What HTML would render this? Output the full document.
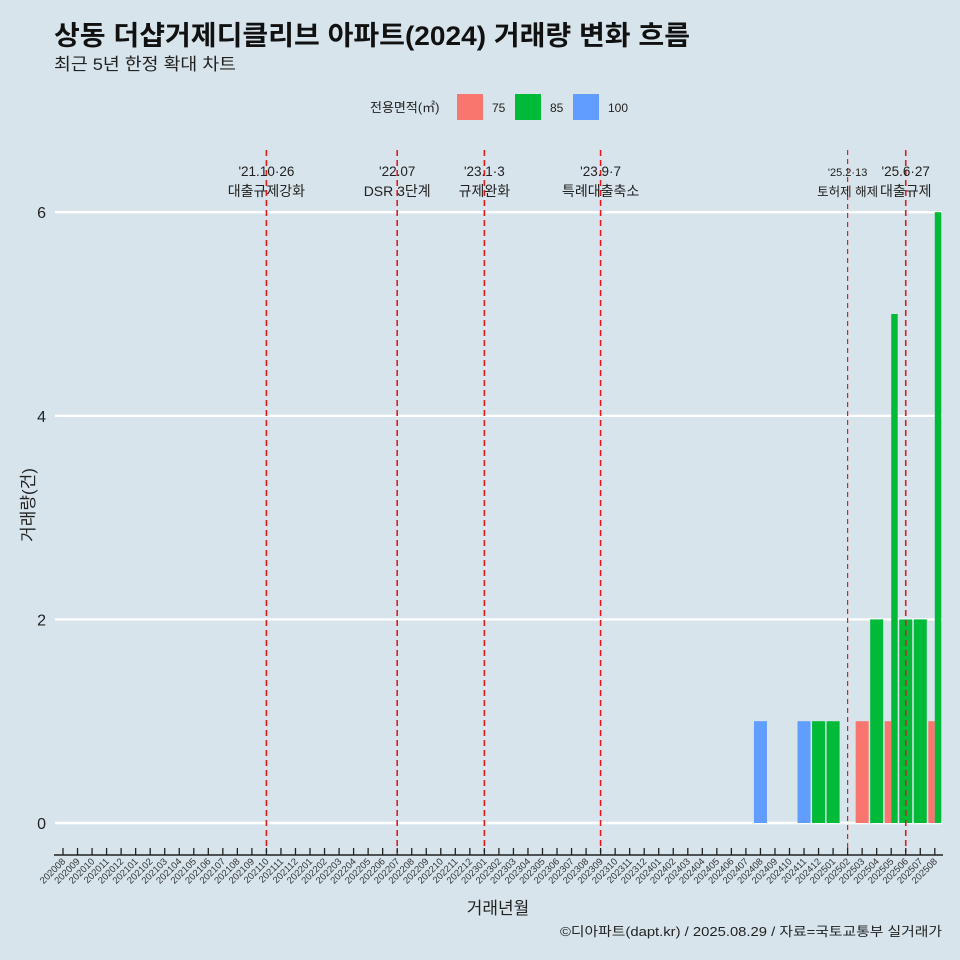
<!DOCTYPE html>
<html><head><meta charset="utf-8"><style>
body{margin:0;background:#d7e4eb;}
svg{display:block;font-family:"Liberation Sans","Noto Sans CJK KR",sans-serif;}
</style></head><body>
<svg width="960" height="960" viewBox="0 0 960 960">
<rect width="960" height="960" fill="#d7e4eb"/>
<text x="54" y="45" font-size="27" font-weight="bold" fill="#111" textLength="636" lengthAdjust="spacingAndGlyphs">상동 더샵거제디클리브 아파트(2024) 거래량 변화 흐름</text>
<text x="54" y="70" font-size="17" fill="#222" textLength="182" lengthAdjust="spacingAndGlyphs">최근 5년 한정 확대 차트</text>
<g>
<text x="370" y="112" font-size="13" fill="#222">전용면적(㎡)</text>
<rect x="457" y="94" width="26" height="26" fill="#f8766d"/>
<text x="492" y="112" font-size="12" fill="#222">75</text>
<rect x="515" y="94" width="26" height="26" fill="#00ba38"/>
<text x="550" y="112" font-size="12" fill="#222">85</text>
<rect x="573" y="94" width="26" height="26" fill="#619cff"/>
<text x="608" y="112" font-size="12" fill="#222">100</text>
</g>
<g id="grid"></g><g id="bars"></g><g id="events"></g><g id="axes"></g>
<text x="0" y="0" transform="translate(34,505) rotate(-90)" text-anchor="middle" font-size="17" fill="#222">거래량(건)</text>
<text x="498" y="914" text-anchor="middle" font-size="17" fill="#222">거래년월</text>
<text x="942" y="936" text-anchor="end" font-size="13" fill="#222" textLength="382" lengthAdjust="spacingAndGlyphs">©디아파트(dapt.kr) / 2025.08.29 / 자료=국토교통부 실거래가</text>
</svg>
<script>
const months=[];for(let y=2020;y<=2025;y++)for(let m=1;m<=12;m++){const s=''+y+(m<10?'0':'')+m;if(s>='202008'&&s<='202508')months.push(s);}
const seriesSizes=['75','85','100'];
const barMonths=['202408','202411','202412','202501','202503','202504','202505','202505','202506','202507','202508','202508'];
const barSizes=['100','100','85','85','75','85','75','85','85','85','75','85'];
const barValues=[1,1,1,1,1,2,1,5,2,2,1,6];
const yTicks=[0,2,4,6];
const eventMonths=['202110','202207','202301','202309','202502','202506'];
const eventLine1=["'21.10·26","'22.07","'23.1·3","'23.9·7","'25.2·13","'25.6·27"];
const eventLine2=['대출규제강화','DSR 3단계','규제완화','특례대출축소','토허제 해제','대출규제'];
const colors={'75':'#f8766d','85':'#00ba38','100':'#619cff'};
const NS='http://www.w3.org/2000/svg';
const x0=63,step=14.53,y0=823,yk=101.8,bw=13;
const xs=m=>x0+months.indexOf(m)*step;
const ys=v=>y0-v*yk;
function mk(p,t,a){const e=document.createElementNS(NS,t);for(const k in a)e.setAttribute(k,a[k]);document.getElementById(p).appendChild(e);return e;}
yTicks.forEach(v=>{
 const l=mk('grid','line',{x1:55,x2:942,y1:ys(v),y2:ys(v),stroke:'#fff','stroke-width':2.4});
 
 
 const t=mk('axes','text',{x:46,y:ys(v)+6,'text-anchor':'end','font-size':16,fill:'#222'});t.textContent=v;
 
 
});
barMonths.forEach((m,i)=>{
 const same=barMonths.map((mm,j)=>mm===m?j:-1).filter(j=>j>=0);
 const n=same.length,k=same.indexOf(i),w=bw/n;
 const cx=xs(m)-bw/2+k*w;
 const r=mk('bars','rect',{x:cx,y:ys(barValues[i]),width:w,height:barValues[i]*yk,fill:colors[barSizes[i]]});
 
 
});
eventMonths.forEach((m,i)=>{
 const x=xs(m),small=m==='202502';
 const l=mk('events','line',{x1:x,x2:x,y1:150,y2:852,stroke:'#e41a1c','stroke-width':small?1.2:1.6,'stroke-dasharray':small?'5 4':'6 4'});
 
 
 const t1=mk('events','text',{x:x,y:176,'text-anchor':'middle','font-size':small?11:13.5,fill:'#222'});t1.textContent=eventLine1[i];
 
 
 const t2=mk('events','text',{x:x,y:196,'text-anchor':'middle','font-size':small?12.5:14,fill:'#222'});t2.textContent=eventLine2[i];
 
 
});
const ax=mk('axes','line',{x1:54,x2:943,y1:855,y2:855,stroke:'#222','stroke-width':1.5});


months.forEach(m=>{
 const x=xs(m);
 const t=mk('axes','line',{x1:x,x2:x,y1:848,y2:855,stroke:'#222','stroke-width':1.3});
 
 
 const l=mk('axes','text',{x:0,y:0,transform:`translate(${x+3},${862}) rotate(-45)`,'text-anchor':'end','font-size':9.5,fill:'#333'});l.textContent=m;
 
 
});
</script>
</body></html>
